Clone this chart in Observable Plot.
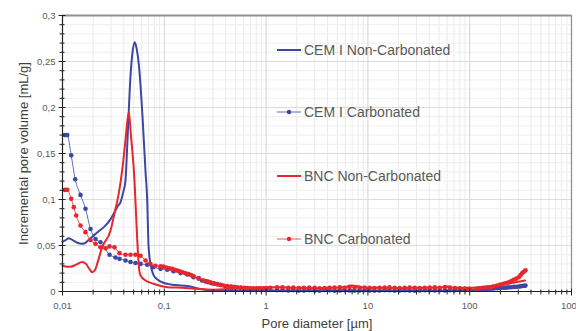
<!DOCTYPE html>
<html><head><meta charset="utf-8">
<script src="https://cdn.jsdelivr.net/npm/d3@7"></script>
<script src="https://cdn.jsdelivr.net/npm/@observablehq/plot@0.6"></script>
<style>
body{margin:0;background:#fff;}
#wrap{position:relative;width:576px;height:331px;overflow:hidden;font-family:"Liberation Sans",Arial,sans-serif;}
.leg{position:absolute;left:277px;height:18px;display:flex;align-items:center;font-size:14px;color:#595959;white-space:nowrap;}
.leg svg{margin-right:2px;}
</style></head><body><div id="wrap"></div>
<script>
// ---------- data (pore diameter in µm, incremental pore volume in mL/g) ----------
const seriesNames = ["CEM I Non-Carbonated", "CEM I Carbonated", "BNC Non-Carbonated", "BNC Carbonated"];
const seriesColors = ["#3b48a3", "#3b48a3", "#e8262b", "#e8262b"];

const cemNonCarbD = [0.0100,0.0108,0.0115,0.0125,0.0140,0.0155,0.0165,0.0180,0.0203,0.0230,0.0255,0.0290,0.0320,0.0350,0.0371,0.0395,0.0415,0.0435,0.0466,0.0490,0.0513,0.0535,0.0562,0.0611,0.0654,0.0679,0.0700,0.0732,0.0783,0.0857,0.098,0.11,0.13,0.17,0.22,0.30,0.45,0.7,1,2,3,5,10,20,30,50,100,150,200,250,300,350];
const cemNonCarbV = [0.054,0.056,0.058,0.056,0.053,0.052,0.0525,0.056,0.061,0.066,0.070,0.077,0.085,0.093,0.097,0.108,0.120,0.165,0.235,0.262,0.271,0.264,0.247,0.19,0.13,0.10,0.05,0.03,0.018,0.013,0.0095,0.008,0.007,0.006,0.003,0.001,0.0005,0.0005,0.0005,0.0008,0.001,0.0006,0.0005,0.0007,0.0008,0.0006,0.001,0.002,0.003,0.004,0.0045,0.005];

const cemCarbD = [0.01053,0.01112,0.01218,0.01333,0.01503,0.01682,0.01884,0.0211,0.02362,0.02896,0.03316,0.0363,0.04158,0.04656,0.05213,0.05838,0.06792,0.0778,0.0918,0.1068,0.1231,0.1443,0.1679,0.1936,0.2168,0.235,0.254,0.27,0.29,0.31,0.333,0.36,0.40,0.45,0.5,0.56,0.63,0.7,0.78,0.87,0.97,
  1.1,1.28,1.45,1.65,1.85,2.1,2.35,2.65,3.0,3.35,3.75,4.2,4.7,5.3,5.9,6.6,7.4,8.3,9.3,10.4,11.6,13,14.6,16.3,18.3,20.5,23,25.7,28.8,32.3,36.2,40.5,45.4,50.8,57,63.8,71.5,80,89.7,100,
  118.5,127,136.6,148,160,172,186,200,215,228,242,256,271,287,304,316,328,340,353];
const cemCarbV = [0.170,0.170,0.148,0.122,0.105,0.090,0.068,0.057,0.0536,0.040,0.037,0.0355,0.0337,0.032,0.031,0.030,0.029,0.0264,0.0246,0.0236,0.022,0.020,0.0185,0.0155,0.014,0.012,0.011,0.010,0.009,0.0085,0.008,0.007,0.0055,0.005,0.0045,0.004,0.0035,0.003,0.0027,0.0023,0.002,
  0.0018,0.0015,0.0015,0.0012,0.0015,0.001,0.0012,0.0015,0.0012,0.001,0.0015,0.0013,0.001,0.0012,0.0015,0.0012,0.001,0.0012,0.0014,0.0012,0.001,0.0012,0.0015,0.0013,0.001,0.0012,0.0014,0.0012,0.001,0.0012,0.0014,0.0013,0.0012,0.0014,0.0012,0.0015,0.0013,0.0015,0.0017,0.0018,
  0.002,0.0022,0.0025,0.0027,0.003,0.0032,0.0035,0.0037,0.004,0.0042,0.0045,0.0047,0.005,0.0052,0.0055,0.0057,0.006,0.0062,0.0065];

const bncNonCarbD = [0.0100,0.0112,0.0120,0.0135,0.0156,0.0170,0.0185,0.0196,0.0210,0.0219,0.0245,0.0296,0.0324,0.0355,0.0389,0.0416,0.0448,0.0470,0.0510,0.0540,0.0565,0.0584,0.0654,0.0783,0.107,0.15,0.2,0.3,0.5,0.8,1.3,2,3,4.5,6,7,8.5,10,15,20,30,50,60,70,100,130,160,200,250,300,350];
const bncNonCarbV = [0.028,0.027,0.027,0.029,0.032,0.030,0.024,0.021,0.024,0.030,0.048,0.066,0.085,0.105,0.135,0.165,0.195,0.17,0.12,0.06,0.025,0.0174,0.012,0.0084,0.0047,0.004,0.003,0.002,0.003,0.004,0.0045,0.004,0.0035,0.004,0.005,0.0065,0.005,0.004,0.004,0.0035,0.004,0.004,0.0055,0.004,0.004,0.005,0.006,0.0075,0.009,0.0105,0.012];

const bncCarbD = [0.01053,0.01112,0.01218,0.01291,0.01363,0.01503,0.01682,0.01884,0.0211,0.02362,0.02645,0.02896,0.03242,0.0363,0.04158,0.04656,0.05213,0.05838,0.06537,0.07318,0.08196,0.0918,0.098,0.105,0.112,0.1196,0.127,0.1339,0.142,0.1499,0.16,0.1729,0.183,0.195,0.218,0.245,0.265,0.284,0.307,0.33,0.355,0.38,0.415,0.45,0.485,0.52,0.565,0.61,0.655,0.70,0.75,0.81,0.87,0.94,1.01,
  1.1,1.28,1.45,1.65,1.85,2.1,2.35,2.65,3.0,3.35,3.75,4.2,4.7,5.3,5.9,6.6,7.4,8.3,9.3,10.4,11.6,13,14.6,16.3,18.3,20.5,23,25.7,28.8,32.3,36.2,40.5,45.4,50.8,57,63.8,71.5,80,89.7,100,
  118.5,127,136.6,148,160,172,186,200,215,228,242,256,271,287,304,316,328,340,353];
const bncCarbV = [0.1105,0.1105,0.1007,0.0917,0.0826,0.0717,0.0645,0.056,0.0518,0.048,0.047,0.049,0.048,0.0417,0.040,0.040,0.040,0.0388,0.0337,0.030,0.028,0.0275,0.027,0.026,0.0253,0.0246,0.0237,0.0228,0.022,0.021,0.020,0.019,0.0178,0.0165,0.0145,0.012,0.011,0.010,0.009,0.008,0.0072,0.0065,0.006,0.0055,0.005,0.0047,0.0043,0.004,0.0038,0.0036,0.0035,0.0035,0.0035,0.0036,0.0038,
  0.004,0.0047,0.0045,0.004,0.0042,0.0038,0.004,0.0043,0.004,0.0035,0.0038,0.004,0.0042,0.0045,0.004,0.005,0.0045,0.004,0.0042,0.004,0.0038,0.004,0.0042,0.0045,0.004,0.0038,0.004,0.0042,0.004,0.0038,0.004,0.0042,0.0045,0.004,0.0048,0.0042,0.0038,0.0035,0.0033,0.003,
  0.003,0.0035,0.004,0.0043,0.0047,0.0055,0.0065,0.0075,0.0084,0.0092,0.010,0.0113,0.0127,0.014,0.0155,0.018,0.020,0.0215,0.023];

const xTicks = [0.01, 0.1, 1, 10, 100, 1000];
const yTicks = [0, 0.05, 0.1, 0.15, 0.2, 0.25, 0.3];

// ---------- helpers ----------
const rows = (D, V) => D.map((d, i) => ({d, v: V[i]})).filter(r => r.v != null);
const cemNC = rows(cemNonCarbD, cemNonCarbV);
const cemC = rows(cemCarbD, cemCarbV);
const bncNC = rows(bncNonCarbD, bncNonCarbV);
const bncC = rows(bncCarbD, bncCarbV);

const xMinor = [];
for (const dec of xTicks.slice(0, -1)) for (let k = 2; k <= 9; k++) xMinor.push(+(dec * k).toPrecision(3));
const yMinor = d3.range(1, 30).map(i => +(i * 0.01).toFixed(2)).filter(v => !yTicks.some(t => Math.abs(t - v) < 1e-9));
const fmt = v => String(v).replace(".", ",");

const vTickMaj = {draw(c){ c.moveTo(0, -3); c.lineTo(0, 4); }};
const vTickMin = {draw(c){ c.moveTo(0, -2); c.lineTo(0, 3); }};
const hTickMaj = {draw(c){ c.moveTo(-4, 0); c.lineTo(3, 0); }};
const hTickMin = {draw(c){ c.moveTo(-3, 0); c.lineTo(2, 0); }};

const chart = Plot.plot({
  width: 576, height: 331,
  marginLeft: 62, marginRight: 5, marginTop: 15, marginBottom: 40,
  style: {fontFamily: "'Liberation Sans', Arial, sans-serif", fontSize: "9.5px", color: "#595959", background: "white"},
  x: {type: "log", domain: [0.01, 1000], axis: null},
  y: {domain: [0, 0.3], axis: null},
  marks: [
    Plot.ruleX(xMinor, {stroke: "#ebebeb", strokeWidth: 1}),
    Plot.ruleY(yMinor, {stroke: "#efefef", strokeWidth: 1}),
    Plot.ruleX(xTicks, {stroke: "#d4d4d4", strokeWidth: 1}),
    Plot.ruleY(yTicks, {stroke: "#dcdcdc", strokeWidth: 1}),
    Plot.ruleY([0.3], {stroke: "#909090", strokeWidth: 2}),
    Plot.ruleX([1000], {stroke: "#8a8a8a", strokeWidth: 1.2}),
    // data
    Plot.line(cemNC, {x: "d", y: "v", stroke: seriesColors[0], strokeWidth: 2, curve: "monotone-x"}),
    Plot.line(cemC, {x: "d", y: "v", stroke: seriesColors[1], strokeWidth: 0.8, curve: "monotone-x"}),
    Plot.dot(cemC, {x: "d", y: "v", fill: seriesColors[1], r: 2.3, stroke: "none"}),
    Plot.line(bncNC, {x: "d", y: "v", stroke: seriesColors[2], strokeWidth: 2, curve: "monotone-x"}),
    Plot.line(bncC, {x: "d", y: "v", stroke: seriesColors[3], strokeWidth: 0.8, curve: "monotone-x"}),
    Plot.dot(bncC, {x: "d", y: "v", fill: seriesColors[3], r: 2.3, stroke: "none"}),
    // axes
    Plot.ruleX([0.01], {stroke: "#222", strokeWidth: 1.2}),
    Plot.ruleY([0], {stroke: "#222", strokeWidth: 1.2}),
    Plot.dot(xMinor, {x: d => d, frameAnchor: "bottom", symbol: vTickMin, stroke: "#222", fill: "none", strokeWidth: 1}),
    Plot.dot(xTicks, {x: d => d, frameAnchor: "bottom", symbol: vTickMaj, stroke: "#222", fill: "none", strokeWidth: 1}),
    Plot.dot(yMinor, {y: d => d, frameAnchor: "left", symbol: hTickMin, stroke: "#222", fill: "none", strokeWidth: 1}),
    Plot.dot(yTicks, {y: d => d, frameAnchor: "left", symbol: hTickMaj, stroke: "#222", fill: "none", strokeWidth: 1}),
    Plot.text(xTicks, {x: d => d, frameAnchor: "bottom", dy: 14, text: fmt, lineAnchor: "middle", fill: "#595959"}),
    Plot.text(yTicks, {y: d => d, frameAnchor: "left", dx: -7, text: fmt, textAnchor: "end", fill: "#595959"}),
    Plot.text(["Incremental pore volume [mL/g]"], {frameAnchor: "left", dx: -39, rotate: -90, textAnchor: "middle", lineAnchor: "middle", fontSize: 13, fill: "#404040"}),
    Plot.text(["Pore diameter [µm]"], {frameAnchor: "bottom", dy: 32, textAnchor: "middle", lineAnchor: "middle", fontSize: 13, fill: "#404040"})
  ]
});

const wrap = document.getElementById("wrap");
wrap.appendChild(chart);

// legend (inside the plot area, as in the original)
const legendTops = [41, 103, 167, 230];
seriesNames.forEach((name, i) => {
  const row = document.createElement("div");
  row.className = "leg";
  row.style.top = legendTops[i] + "px";
  const solid = i % 2 === 0;
  row.innerHTML = `<svg width="25" height="18"><line x1="0" x2="24" y1="9" y2="9" stroke="${seriesColors[i]}" stroke-width="${solid ? 2 : 0.8}"/>` +
    (solid ? "" : `<circle cx="12" cy="9" r="2.2" fill="${seriesColors[i]}"/>`) + `</svg><span>${name}</span>`;
  wrap.appendChild(row);
});
</script></body></html>
